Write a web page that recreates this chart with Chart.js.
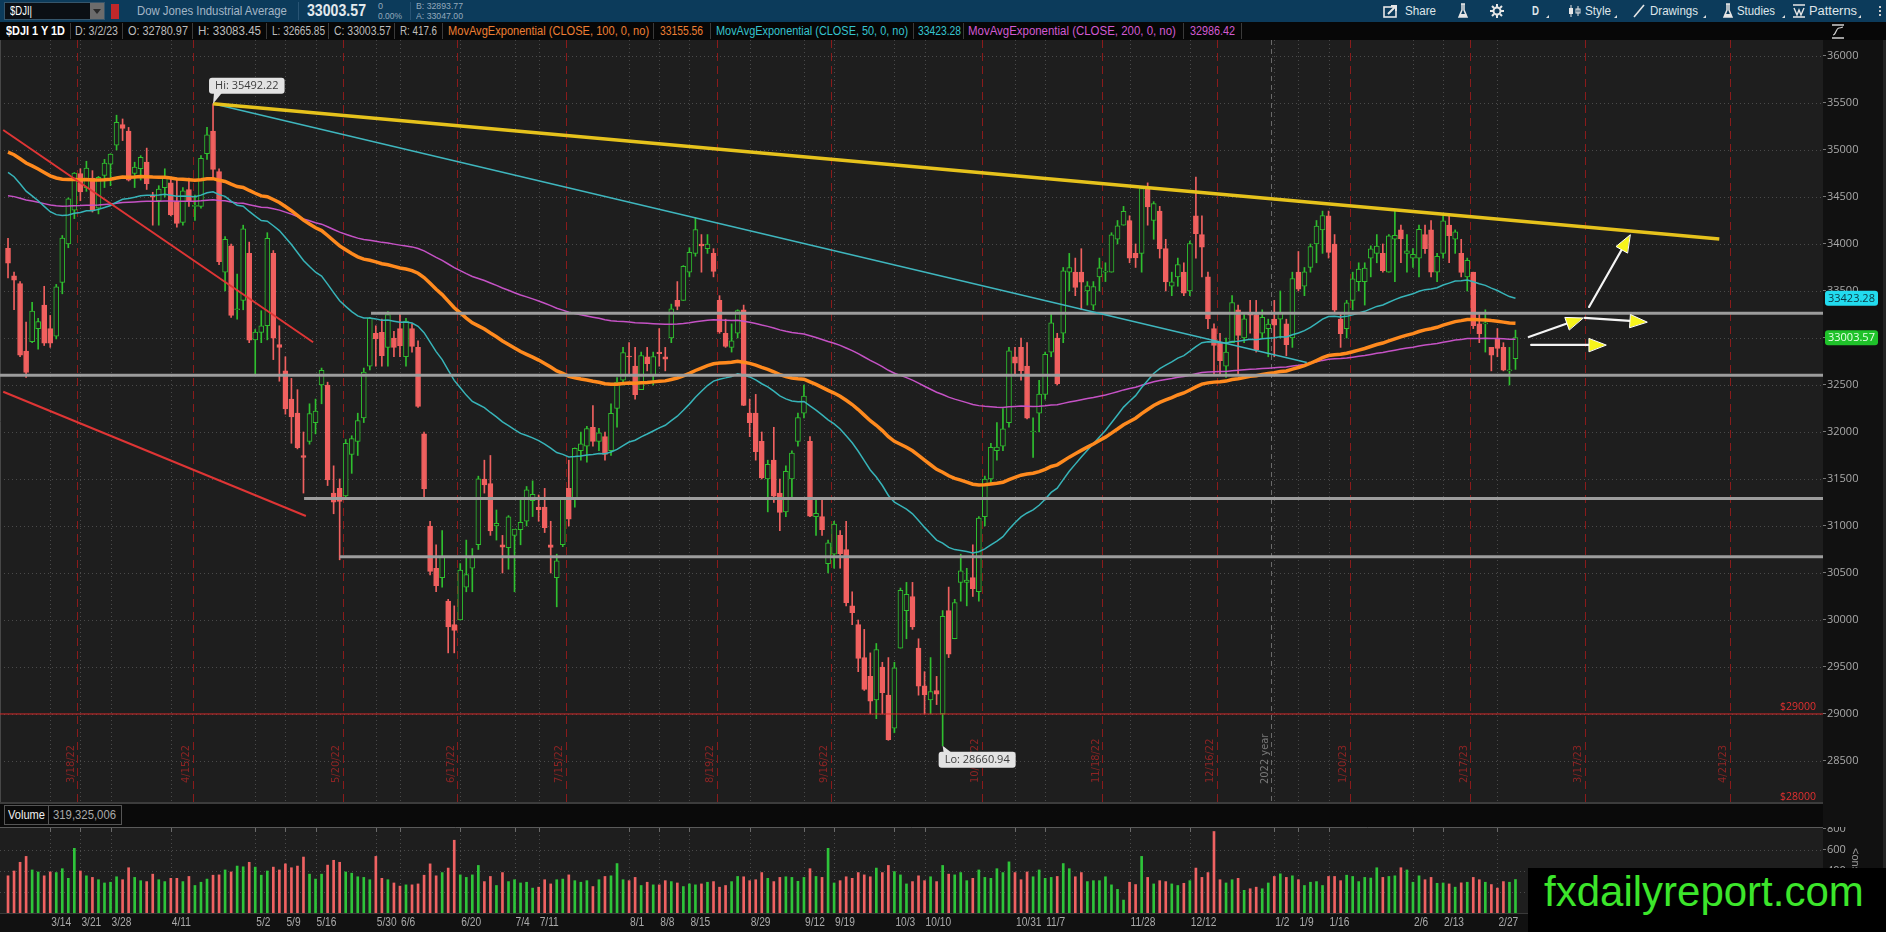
<!DOCTYPE html>
<html><head><meta charset="utf-8"><title>$DJI 1 Y 1D</title>
<script src="https://cdn.jsdelivr.net/npm/chart.js@4.4.1/dist/chart.umd.min.js"></script>
<style>
*{box-sizing:border-box}
html,body{margin:0;padding:0;width:1886px;height:932px;overflow:hidden;background:#111;font-family:"Liberation Sans",Arial,sans-serif;}
.abs{position:absolute;white-space:nowrap}
#top{position:absolute;left:0;top:0;width:1886px;height:22px;background:#0c3b5b}
#top .t{color:#a4b6c6;font-size:13px;top:3px}
#top .b{color:#dfe6ea;font-size:12.5px;top:4px}
#top .tiny{color:#93a9bb;font-size:9px;line-height:9px}
#leg{position:absolute;left:0;top:22px;width:1886px;height:18px;background:#070707}
#leg .abs{top:2px;font-size:12.5px;line-height:14px;color:#bdbdbd}
.sep{position:absolute;top:1px;width:1px;height:16px;background:#3a3a3a}
#main{position:absolute;left:0;top:40px}
#volhead{position:absolute;left:0;top:802px;width:1823px;height:25px;background:#0a0a0a;border-top:2px solid #3c3c3c}
#vol{position:absolute;left:0;top:827px}
#wm{position:absolute;left:1528px;top:868px;width:358px;height:64px;background:#000;color:#3ce62b;font-family:"Liberation Sans",Arial,sans-serif;font-size:42px;line-height:48px;padding-left:16px}
</style></head>
<body>
<div id="top">
  <div class="abs" style="left:4px;top:2px;width:101px;height:18px;background:#0b0f14;border:1px solid #35556b"></div>
  <span class="abs" style="left:10px;top:4px;color:#fff;font-size:12.5px" data-w="22">$DJI|</span>
  <div class="abs" style="left:90px;top:3px;width:14px;height:16px;background:#6c6c6c"></div>
  <div class="abs" style="left:93px;top:9px;width:0;height:0;border-left:4px solid transparent;border-right:4px solid transparent;border-top:5px solid #2a2a2a"></div>
  <div class="abs" style="left:111px;top:4px;width:8px;height:15px;background:#c0282a"></div>
  <span class="abs t" style="left:137px" data-w="150">Dow Jones Industrial Average</span>
  <div class="sep" style="left:298px;top:2px;height:18px;background:#285474"></div>
  <span class="abs" style="left:307px;top:1px;color:#e3e9ed;font-size:17px;font-weight:bold" data-w="59">33003.57</span>
  <span class="abs tiny" style="left:378px;top:2px">0</span>
  <span class="abs tiny" style="left:378px;top:12px" data-w="24">0.00%</span>
  <div class="sep" style="left:410px;top:2px;height:18px;background:#285474"></div>
  <span class="abs tiny" style="left:416px;top:2px" data-w="47">B: 32893.77</span>
  <span class="abs tiny" style="left:416px;top:12px" data-w="47">A: 33047.00</span>

  <svg class="abs" style="left:1383px;top:4px" width="16" height="14"><rect x="1" y="3" width="12" height="10" fill="none" stroke="#e6e6e6" stroke-width="1.6"/><path d="M5 10 L12 3 M8 2 H13 V7" stroke="#e6e6e6" stroke-width="2" fill="none"/></svg>
  <span class="abs b" style="left:1405px" data-w="31">Share</span>
  <svg class="abs" style="left:1457px;top:3px" width="12" height="16"><path d="M4 1 H8 M5 1 V7 L2 14 H10 L7 7 V1" stroke="#e6e6e6" stroke-width="1.5" fill="none"/><path d="M3 11 H9 L10 14 H2Z" fill="#e6e6e6"/></svg>
  <svg class="abs" style="left:1490px;top:4px" width="14" height="14"><circle cx="7" cy="7" r="3.5" fill="none" stroke="#e6e6e6" stroke-width="2"/><path d="M7 0V3M7 11V14M0 7H3M11 7H14M2 2L4 4M10 10L12 12M12 2L10 4M4 10L2 12" stroke="#e6e6e6" stroke-width="2"/></svg>
  <span class="abs b" style="left:1532px;font-weight:bold" data-w="7">D</span>
  <div class="abs" style="left:1546px;top:15px;border-left:3px solid transparent;border-bottom:3px solid #ddd"></div>
  <svg class="abs" style="left:1568px;top:4px" width="14" height="14"><path d="M3 1V13M10 2V12" stroke="#e6e6e6" stroke-width="1"/><rect x="1" y="4" width="4" height="6" fill="#e6e6e6"/><rect x="8" y="5" width="4" height="4" fill="none" stroke="#e6e6e6"/></svg>
  <span class="abs b" style="left:1585px" data-w="26">Style</span>
  <div class="abs" style="left:1614px;top:15px;border-left:3px solid transparent;border-bottom:3px solid #ddd"></div>
  <svg class="abs" style="left:1632px;top:4px" width="14" height="14"><path d="M2 13L12 1" stroke="#e6e6e6" stroke-width="1.6"/></svg>
  <span class="abs b" style="left:1650px" data-w="48">Drawings</span>
  <div class="abs" style="left:1703px;top:15px;border-left:3px solid transparent;border-bottom:3px solid #ddd"></div>
  <svg class="abs" style="left:1722px;top:3px" width="12" height="16"><path d="M4 1 H8 M5 1 V7 L2 14 H10 L7 7 V1" stroke="#e6e6e6" stroke-width="1.5" fill="none"/><path d="M3 11 H9 L10 14 H2Z" fill="#e6e6e6"/></svg>
  <span class="abs b" style="left:1737px" data-w="38">Studies</span>
  <div class="abs" style="left:1782px;top:15px;border-left:3px solid transparent;border-bottom:3px solid #ddd"></div>
  <svg class="abs" style="left:1792px;top:3px" width="14" height="16"><path d="M1 2H13M1 14H13M2 5L5 12L7 7L9 12L12 5" stroke="#e6e6e6" stroke-width="1.4" fill="none"/></svg>
  <span class="abs b" style="left:1809px" data-w="48">Patterns</span>
  <div class="abs" style="left:1858px;top:15px;border-left:3px solid transparent;border-bottom:3px solid #ddd"></div>
  <div class="abs" style="left:1879px;top:6px;width:2px;height:2px;background:#ccc;box-shadow:0 4px 0 #ccc,0 8px 0 #ccc"></div>
</div>

<div id="leg">
  <span class="abs" style="left:6px;color:#fff;font-weight:bold" data-w="59">$DJI 1 Y 1D</span><div class="sep" style="left:70px"></div>
  <span class="abs" style="left:75px" data-w="43">D: 3/2/23</span><div class="sep" style="left:122px"></div>
  <span class="abs" style="left:128px" data-w="60">O: 32780.97</span><div class="sep" style="left:192px"></div>
  <span class="abs" style="left:198px" data-w="63">H: 33083.45</span><div class="sep" style="left:266px"></div>
  <span class="abs" style="left:272px" data-w="53">L: 32665.85</span><div class="sep" style="left:328px"></div>
  <span class="abs" style="left:334px" data-w="57">C: 33003.57</span><div class="sep" style="left:394px"></div>
  <span class="abs" style="left:400px" data-w="37">R: 417.6</span><div class="sep" style="left:442px"></div>
  <span class="abs" style="left:448px;color:#ee7f33" data-w="201">MovAvgExponential (CLOSE, 100, 0, no)</span><div class="sep" style="left:653px"></div>
  <span class="abs" style="left:660px;color:#ee7f33" data-w="43">33155.56</span><div class="sep" style="left:710px"></div>
  <span class="abs" style="left:716px;color:#35c3cf" data-w="192">MovAvgExponential (CLOSE, 50, 0, no)</span><div class="sep" style="left:913px"></div>
  <span class="abs" style="left:918px;color:#35c3cf" data-w="43">33423.28</span><div class="sep" style="left:963px"></div>
  <span class="abs" style="left:968px;color:#d25ad2" data-w="208">MovAvgExponential (CLOSE, 200, 0, no)</span><div class="sep" style="left:1183px"></div>
  <span class="abs" style="left:1190px;color:#d25ad2" data-w="45">32986.42</span><div class="sep" style="left:1241px"></div>
  <svg class="abs" style="left:1830px;top:1px" width="16" height="17"><path d="M2 2H14M2 15H14" stroke="#cfcfcf" stroke-width="1.5"/><path d="M3 12C6 12 6 5 9 5S12 4 13 4" stroke="#cfcfcf" stroke-width="1.2" fill="none"/></svg>
</div>

<canvas id="main" width="1886" height="763"></canvas>
<div id="volhead">
  <div class="abs" style="left:4px;top:1px;width:45px;height:20px;border:1px solid #555"></div>
  <span class="abs" style="left:8px;top:4px;color:#f0f0f0;font-size:12.5px" data-w="37">Volume</span>
  <div class="abs" style="left:48px;top:1px;width:74px;height:20px;border:1px solid #555;border-left:none"></div>
  <span class="abs" style="left:53px;top:4px;color:#a8a8a8;font-size:12.5px" data-w="63">319,325,006</span>
</div>
<canvas id="vol" width="1886" height="105"></canvas>
<div class="abs" style="left:1883px;top:40px;width:3px;height:892px;background:#232323"></div>
<div class="abs" style="left:1862px;top:848px;color:#9a9a9a;font-size:11px;transform:rotate(90deg);transform-origin:left top">&lt;ons</div>
<div id="wm">fxdailyreport.com</div>

<script>
// fit the narrow toolbar / legend texts to the widths measured on the reference
document.querySelectorAll('[data-w]').forEach(el => {
  const w = +el.dataset.w, a = el.getBoundingClientRect().width;
  if (a > 0) { el.style.transformOrigin = 'left center'; el.style.transform = 'scaleX(' + (w / a).toFixed(3) + ')'; }
});

// ---------------- DATA ----------------
// trading-day index 0 = 3/3/22 ... 250 = 3/2/23
const opens = [33953,33660,33580,32860,32960,33100,33350,33100,33020,33590,
34000,34360,34750,34600,34700,34380,34730,34850,35050,35270,
35200,34750,34800,34870,34500,34460,34600,34650,34450,34230,
34580,34400,34400,34960,35200,34770,33700,33980,33300,33400,
33900,32980,33060,33130,33900,32930,32650,32350,32200,31750,
31900,32100,32500,32500,31350,31400,31320,31760,31900,32150,
32700,33050,33060,32900,33000,33100,32800,33100,32900,31980,
31000,30550,30450,30200,29950,30000,30350,30550,30800,31500,
31450,31000,30800,30770,30900,30960,31050,31270,31200,31200,
30800,30450,30800,31400,31300,31800,31850,32050,31900,31950,
31800,32250,32550,32800,32700,32450,32800,32600,32850,32800,
33000,33400,33400,33700,33900,34000,33950,33900,33400,33050,
32900,33050,33300,32200,32200,31900,31500,31700,31350,31150,
31500,31900,32200,31900,31100,31100,30600,30700,30900,30750,
30150,29950,29600,29400,29150,29500,29200,28850,29700,30100,
30250,29700,29300,29150,29250,29000,30100,29800,30400,30400,
30450,30300,31100,31500,31800,31850,32100,32800,32900,32700,
32000,32200,32400,32850,33000,33050,33700,33700,33700,33500,
33350,33650,33700,33700,34050,34200,34250,33900,33900,34600,
34250,34350,33950,33550,33650,33700,33500,34300,34100,33650,
33100,32950,32700,32950,33300,33000,33250,33250,33050,33100,
33200,33200,33150,33000,33700,33550,33750,34000,34150,34300,
34000,33200,33100,33400,33600,33600,33850,33900,33900,33700,
34050,34150,33900,33850,33850,34100,34150,33700,33900,34200,
34050,33900,33650,33700,33150,33150,32900,33000,32900,32650,
32780.97];
const highs = [34060,33700,33600,33170,33380,33210,33550,33240,33570,34090,
34490,34760,34800,34880,34780,34720,34900,34960,35370,35330,
35240,34870,34940,35020,34550,34620,34800,34700,34700,34600,
34700,34520,34940,35240,35492.22,34800,34080,34000,33680,34200,
34020,33090,33290,34120,33930,33130,32800,32570,32450,32000,
32300,32350,32680,32530,31640,31500,31920,31960,32200,32680,
33220,33130,33200,33280,33070,33270,33210,33150,32970,32000,
31050,30800,30950,30220,30150,30600,30850,30760,31530,31700,
31750,31170,30900,31110,30950,31280,31420,31480,31330,31400,
31050,30700,31300,31700,31830,32000,32060,32280,32040,32000,
32300,32580,32900,32950,32900,32850,32900,32850,33100,32900,
33360,33600,33770,33960,34280,34100,34100,33950,33450,33200,
33150,33300,33350,32350,32400,32000,31700,32050,31500,31640,
31800,32200,32500,31950,31300,31300,30850,31050,30950,31050,
30300,30000,29900,29650,29750,29550,29600,29550,30340,30400,
30400,29800,29450,29600,29400,30100,30350,30220,30700,30550,
30800,31100,31530,31880,32100,32250,32900,32900,33000,32950,
32150,32550,32850,33260,33050,33750,33900,33850,33950,33600,
33600,33850,33800,34120,34250,34400,34300,34000,34600,34650,
34450,34400,34050,33700,33850,33800,34030,34712,34300,33700,
33150,33050,33000,33450,33350,33250,33400,33400,33300,33200,
33400,33500,33200,33700,33920,33750,34000,34250,34350,34350,
34100,33250,33400,33700,33800,33800,33980,34100,34000,34100,
34350,34200,34100,33950,34200,34200,34250,33900,34300,34300,
34150,34050,33850,33700,33250,33300,32900,33100,32950,32900,
33083.45];
const lows = [33640,33300,32800,32580,32950,32880,32920,32900,32990,33470,
33960,34270,34460,34560,34340,34320,34600,34620,35000,35100,
34670,34600,34680,34580,34200,34200,34500,34300,34180,34200,
34400,34250,34380,34900,34700,33780,33500,33220,33200,33300,
32950,32600,32950,32980,32770,32540,32190,31880,31820,31350,
31870,31980,32300,31430,31130,30640,31300,31560,31750,32100,
32660,32700,32700,32700,32800,32800,32700,32850,32260,31300,
30480,30300,30350,29650,29650,30000,30300,30300,30750,31350,
30900,30850,30500,30540,30300,30800,31000,31100,31050,30930,
30500,30140,30780,31000,31200,31700,31680,31850,31800,31700,
31750,32050,32500,32600,32350,32450,32650,32500,32700,32650,
32950,33300,33400,33650,33870,33700,33900,33650,33050,32900,
32850,33000,32280,31950,31700,31500,31150,31250,30950,31100,
31300,31850,32150,31100,30900,30900,30500,30550,30550,30150,
29950,29450,29250,29000,28950,29000,28720,28800,29700,29800,
29900,29200,29000,29000,29100,28660.94,29600,29800,30200,30150,
30250,30200,31000,31450,31700,31800,32050,32600,32550,32140,
31730,32000,32350,32800,32500,32950,33500,33450,33300,33350,
33300,33500,33600,33700,34000,34200,33800,33750,33700,34200,
34050,33850,33500,33450,33550,33450,33450,33850,33650,33100,
32600,32600,32580,32950,32600,32950,33050,32850,33000,32800,
32800,33000,32810,32900,33500,33450,33700,33800,33900,33850,
33280,32900,33000,33300,33500,33350,33650,33800,33700,33700,
33600,33800,33700,33750,33650,33900,33650,33600,33850,33800,
33900,33650,33500,33100,32950,32850,32650,32800,32650,32500,
32665.85];
const closes = [33795,33615,32817,32633,33286,33174,32944,32945,33544,34063,
34481,34755,34553,34807,34359,34708,34861,34956,35294,35229,
34678,34818,34922,34641,34497,34584,34721,34308,34220,34565,
34451,34412,34911,35161,34793,33811,34049,33240,33302,34161,
32977,33062,33129,34061,32998,32899,32246,32161,31834,31730,
32197,32223,32655,31490,31253,31262,31880,31929,32120,32637,
33213,32990,32813,33248,32900,32916,33180,32911,32273,31393,
30517,30365,30669,29927,29889,30530,30483,30677,31501,31438,
30947,31029,30775,31097,30968,31038,31385,31338,31174,30981,
30773,30630,31288,31073,31827,31875,32037,31899,31990,31762,
32198,32530,32845,32798,32396,32813,32727,32803,32833,32774,
33310,33337,33761,33912,34152,33980,33999,33707,33064,32910,
32969,33292,32283,32099,31791,31510,31656,31318,31145,31581,
31775,32152,32381,31105,31135,30962,30822,31020,30706,30184,
30077,29590,29261,29135,29684,29226,28726,29491,30316,30274,
29927,29297,29203,29239,29211,30039,29635,30186,30524,30424,
30334,31083,31500,31837,31839,32033,32862,32733,32653,32148,
32001,32403,32827,33161,32514,33715,33748,33537,33593,33554,
33546,33746,33700,34098,34194,34347,33849,33853,34590,34395,
34430,33947,33596,33598,33781,33476,34005,34109,33966,33202,
32920,32758,32850,33376,33027,33204,33242,32876,33221,33147,
33136,33270,32930,33631,33518,33704,33973,34190,34303,33911,
33297,33045,33375,33630,33734,33744,33949,33978,33717,34086,
34093,34054,33926,33891,34157,33949,33700,33869,34246,34089,
34128,33697,33827,33130,33045,33154,32817,32889,32657,32662,
33003.57];
// volume, millions of shares
const volumes = [354,400,483,539,410,391,354,391,385,422,
330,616,400,354,339,317,286,293,345,317,
431,339,308,299,370,317,299,330,330,299,
348,262,293,323,360,363,410,391,447,440,
483,437,360,400,437,410,468,431,447,533,
370,323,370,456,502,483,391,379,345,339,
317,539,330,317,286,256,268,268,277,360,
468,354,385,428,693,363,339,363,453,299,
348,262,385,299,317,286,293,237,246,317,
277,317,323,363,308,293,308,252,317,348,
354,471,317,308,339,262,293,268,268,308,
299,286,252,277,268,277,293,299,246,262,
299,348,
345,308,317,385,330,299,339,345,339,302,
339,422,348,339,616,286,308,345,330,385,
363,345,428,385,453,394,363,277,299,354,
308,345,299,453,370,363,385,308,330,410,
339,330,422,385,487,385,317,391,345,410,
330,339,348,471,422,345,385,299,308,308,
345,268,225,123,293,271,539,339,277,308,
299,277,262,283,308,428,339,385,776,317,
286,317,330,216,231,246,231,286,348,373,
339,354,317,262,293,299,262,348,348,308,
360,348,299,339,333,431,339,348,354,431,
410,293,354,317,339,283,286,277,
246,287,293,339,317,293,271,237,299,293,319];

// EMA values just before the first visible bar, read at the left edge of the chart
const emaSeeds = {50: 34800, 100: 35000, 200: 34520};

// axis ticks
const priceTicks = [28500,29000,29500,30000,30500,31000,31500,32000,32500,33000,33500,34000,34500,35000,35500,36000];
const volumeTicks = [200,400,600,800];
const weekTicks = [[7,'3/14'],[12,'3/21'],[17,'3/28'],[27,'4/11'],[41,'5/2'],[46,'5/9'],[51,'5/16'],[61,'5/30'],[65,'6/6'],[75,'6/20'],[84,'7/4'],[88,'7/11'],[103,'8/1'],[108,'8/8'],[113,'8/15'],[123,'8/29'],[132,'9/12'],[137,'9/19'],[147,'10/3'],[152,'10/10'],[167,'10/31'],[172,'11/7'],[186,'11/28'],[196,'12/12'],[210,'1/2'],[214,'1/9'],[219,'1/16'],[233,'2/6'],[238,'2/13'],[247,'2/27']];
// option-expiration markers (position in trading-day index) and year marker
const expiries = [[11.5,'3/18/22'],[30.7,'4/15/22'],[55.5,'5/20/22'],[74.5,'6/17/22'],[92.5,'7/15/22'],[117.5,'8/19/22'],[136.5,'9/16/22'],[161.5,'10/21/22'],[181.5,'11/18/22'],[200.5,'12/16/22'],[222.5,'1/20/23'],[242.5,'2/17/23'],[261.5,'3/17/23'],[285.5,'4/21/23']];
const yearMark = [209.5,'2022 year'];

// user drawings: [index, price] endpoints
const drawings = [
  {color:'#e6c21c', width:3.5, pts:[[34,35492.22],[283.8,34053]]},
  {color:'#3fb6be', width:1.5, pts:[[34,35492.22],[215.4,32740]]},
  {color:'#df3535', width:2, pts:[[-0.8,35213],[50.6,32955]]},
  {color:'#df3535', width:2, pts:[[-0.8,32428],[49.4,31106]]},
  {color:'#9d9d9d', width:3, pts:[[60.2,33262],[301,33262]]},
  {color:'#9d9d9d', width:3, pts:[[-1.4,32603],[301,32603]]},
  {color:'#9d9d9d', width:3, pts:[[49.1,31292],[301,31292]]},
  {color:'#9d9d9d', width:3, pts:[[55,30672],[301,30672]]},
  {color:'#d42a2a', width:1, pts:[[-1.4,29000],[301,29000]]}
];
const priceLevels = [[29000,'$29000'],[28000,'$28000']];
const arrows = [[252.2,33011,261.2,33213],[261.5,33213,271.8,33170],[252.6,32926,265,32926],[262.2,33330,269,34096]];
const callouts = [{i:34, p:35492.22, text:'Hi: 35492.22', above:true},{i:155, p:28660.94, text:'Lo: 28660.94', above:false}];
const priceTags = [[33423.28,'33423.28','#22dcef','#0b3944'],[33003.57,'33003.57','#1fc22a','#e9ffe9']];

// ---------------- derived ----------------
const idx = closes.map((_, i) => i);
const isUp = idx.map(i => closes[i] >= opens[i]);
function ema(src, n, seed) { const a = 2 / (n + 1); let e = seed; return src.map(c => (e = e + a * (c - e))); }
const ema50 = ema(closes, 50, emaSeeds[50]);
const ema100 = ema(closes, 100, emaSeeds[100]);
const ema200 = ema(closes, 200, emaSeeds[200]);

const X_MIN = -1.33, X_MAX = 301;
const Y_MIN = 28053, Y_MAX = 36170;
const GREEN = '#2fbf2f', RED = '#f0605f', BG = '#1e1e1e';
const NARROW = '"Liberation Sans Narrow","DejaVu Sans Condensed",sans-serif';
const SANS = '"Liberation Sans",Arial,sans-serif';
const AXF = '"Open Sans","DejaVu Sans",sans-serif';

function vline(ctx, x, y1, y2) { ctx.beginPath(); ctx.moveTo(x, y1); ctx.lineTo(x, y2); ctx.stroke(); }
function hline(ctx, y, x1, x2) { ctx.beginPath(); ctx.moveTo(x1, y); ctx.lineTo(x2, y); ctx.stroke(); }
function rrect(ctx, x, y, w, h, r) { ctx.beginPath(); ctx.moveTo(x + r, y); ctx.lineTo(x + w - r, y); ctx.quadraticCurveTo(x + w, y, x + w, y + r); ctx.lineTo(x + w, y + h - r); ctx.quadraticCurveTo(x + w, y + h, x + w - r, y + h); ctx.lineTo(x + r, y + h); ctx.quadraticCurveTo(x, y + h, x, y + h - r); ctx.lineTo(x, y + r); ctx.quadraticCurveTo(x, y, x + r, y); ctx.closePath(); }

const mainDeco = {
  id: 'mainDeco',
  beforeDraw(c) {
    const { ctx, chartArea: a } = c;
    ctx.save();
    ctx.fillStyle = '#111'; ctx.fillRect(0, 0, c.width, c.height);
    ctx.fillStyle = BG; ctx.fillRect(a.left, a.top, a.right - a.left, a.bottom - a.top);
    ctx.restore();
  },
  beforeDatasetsDraw(c) {
    const { ctx, chartArea: a, scales: { x, y } } = c;
    ctx.save();
    ctx.beginPath(); ctx.rect(a.left, a.top, a.right - a.left, a.bottom - a.top); ctx.clip();
    ctx.lineWidth = 1; ctx.strokeStyle = '#4a4a4a'; ctx.setLineDash([1, 3]);
    priceTicks.forEach(v => hline(ctx, Math.round(y.getPixelForValue(v)) + 0.5, a.left, a.right));
    weekTicks.forEach(([i]) => vline(ctx, Math.round(x.getPixelForValue(i)) + 0.5, a.top, a.bottom));
    ctx.strokeStyle = '#6a6a6a'; ctx.setLineDash([5, 4]);
    const yx = Math.round(x.getPixelForValue(yearMark[0])) + 0.5;
    vline(ctx, yx, a.top, a.bottom);
    ctx.strokeStyle = '#8a1b1b'; ctx.setLineDash([8, 5]);
    expiries.forEach(([i]) => vline(ctx, Math.round(x.getPixelForValue(i)) + 0.5, a.top, a.bottom));
    ctx.setLineDash([]);
    ctx.textAlign = 'left'; ctx.textBaseline = 'bottom';
    ctx.font = '11px ' + NARROW;
    ctx.fillStyle = '#8c2424';
    expiries.forEach(([i, t]) => {
      const p = x.getPixelForValue(i);
      ctx.save(); ctx.translate(p - 1, a.bottom - 20); ctx.rotate(-Math.PI / 2); ctx.fillText(t, 0, 0); ctx.restore();
    });
    ctx.fillStyle = '#787878';
    ctx.save(); ctx.translate(yx - 1, a.bottom - 19); ctx.rotate(-Math.PI / 2); ctx.fillText(yearMark[1], 0, 0); ctx.restore();
    ctx.strokeStyle = '#474747'; ctx.lineWidth = 1; vline(ctx, a.left + 0.5, a.top, a.bottom);
    ctx.restore();
  },
  afterDatasetsDraw(c) {
    const { ctx, chartArea: a, scales: { x, y } } = c;
    ctx.save();
    ctx.font = '10.5px ' + AXF; ctx.fillStyle = '#e23030'; ctx.textAlign = 'right'; ctx.textBaseline = 'bottom';
    priceLevels.forEach(([v, t]) => { const py = Math.min(y.getPixelForValue(v) - 2, a.bottom - 1); ctx.fillText(t, a.right - 7, py); });
    arrows.forEach(([i1, p1, i2, p2]) => {
      const x1 = x.getPixelForValue(i1), y1 = y.getPixelForValue(p1), x2 = x.getPixelForValue(i2), y2 = y.getPixelForValue(p2);
      const ang = Math.atan2(y2 - y1, x2 - x1), hl = 17, hw = 6.5;
      const bx = x2 - hl * Math.cos(ang), by = y2 - hl * Math.sin(ang);
      ctx.strokeStyle = '#f4f4f4'; ctx.lineWidth = 2.2; ctx.lineCap = 'round';
      ctx.beginPath(); ctx.moveTo(x1, y1); ctx.lineTo(bx, by); ctx.stroke();
      ctx.beginPath(); ctx.moveTo(x2, y2);
      ctx.lineTo(bx + hw * Math.sin(ang), by - hw * Math.cos(ang));
      ctx.lineTo(bx - hw * Math.sin(ang), by + hw * Math.cos(ang)); ctx.closePath();
      ctx.fillStyle = '#f6f41c'; ctx.fill(); ctx.lineWidth = 1; ctx.strokeStyle = '#ffffff'; ctx.stroke();
    });
    ctx.font = '11px ' + AXF; ctx.textAlign = 'left'; ctx.textBaseline = 'middle';
    callouts.forEach(o => {
      const px = x.getPixelForValue(o.i), py = y.getPixelForValue(o.p);
      const w = ctx.measureText(o.text).width + 12, h = 16;
      const bx = px - 4, by = o.above ? py - 26 : py + 6;
      ctx.fillStyle = '#e3e3e3';
      rrect(ctx, bx, by, w, h, 3); ctx.fill();
      ctx.beginPath();
      if (o.above) { ctx.moveTo(px + 1, by + h - 1); ctx.lineTo(px + 9, by + h - 1); ctx.lineTo(px, py); }
      else { ctx.moveTo(px + 1, by + 1); ctx.lineTo(px + 9, by + 1); ctx.lineTo(px, py); }
      ctx.closePath(); ctx.fill();
      ctx.fillStyle = '#3c3c3c'; ctx.fillText(o.text, bx + 6, by + h / 2 + 0.5);
    });
    ctx.restore();
  },
  afterDraw(c) {
    const { ctx, chartArea: a, scales: { y } } = c;
    ctx.save();
    ctx.font = '11px ' + AXF; ctx.textAlign = 'left'; ctx.textBaseline = 'middle';
    priceTags.forEach(([v, t, bg, fg]) => {
      const py = y.getPixelForValue(v);
      ctx.fillStyle = bg; rrect(ctx, a.right + 2, py - 7.5, 53, 15, 3); ctx.fill();
      ctx.fillStyle = fg; ctx.fillText(t, a.right + 5, py + 0.5);
    });
    ctx.restore();
  }
};

new Chart(document.getElementById('main'), {
  type: 'bar',
  data: {
    datasets: [
      { type: 'bar', label: 'wick', data: idx.map(i => ({ x: i, y: [lows[i], highs[i]] })),
        backgroundColor: idx.map(i => isUp[i] ? GREEN : RED), borderWidth: 0, barThickness: 1, grouped: false, order: 10 },
      { type: 'bar', label: 'body', data: idx.map(i => ({ x: i, y: [opens[i], closes[i]] })),
        backgroundColor: idx.map(i => isUp[i] ? BG : RED), borderColor: idx.map(i => isUp[i] ? GREEN : RED),
        borderWidth: 1, borderSkipped: false, barThickness: 5, minBarLength: 1, grouped: false, order: 9 },
      { type: 'line', label: 'EMA200', data: idx.map(i => ({ x: i, y: ema200[i] })), borderColor: '#c552c5', borderWidth: 1.5, pointRadius: 0, order: 7 },
      { type: 'line', label: 'EMA50', data: idx.map(i => ({ x: i, y: ema50[i] })), borderColor: '#37b4b9', borderWidth: 1.5, pointRadius: 0, order: 6 },
      { type: 'line', label: 'EMA100', data: idx.map(i => ({ x: i, y: ema100[i] })), borderColor: '#ff8a1e', borderWidth: 3.5, pointRadius: 0, order: 5 },
      ...drawings.map((d, k) => ({ type: 'line', label: 'draw' + k, data: d.pts.map(([px, py]) => ({ x: px, y: py })),
        borderColor: d.color, borderWidth: d.width, pointRadius: 0, order: 1 }))
    ]
  },
  options: {
    responsive: false, animation: false, events: [],
    layout: { padding: 0 },
    plugins: { legend: { display: false }, tooltip: { enabled: false } },
    scales: {
      x: { type: 'linear', min: X_MIN, max: X_MAX, display: false, offset: false },
      y: { type: 'linear', position: 'right', min: Y_MIN, max: Y_MAX,
        afterBuildTicks: s => { s.ticks = priceTicks.map(v => ({ value: v })); },
        afterFit: s => { s.width = 63; s.paddingTop = 0; s.paddingBottom = 0; },
        grid: { drawOnChartArea: false, drawTicks: true, tickLength: 3, color: '#777' },
        border: { display: false },
        ticks: { color: '#a9a9a9', font: { family: AXF, size: 11 }, padding: 1, callback: v => String(v) } }
    }
  },
  plugins: [mainDeco]
});

const volDeco = {
  id: 'volDeco',
  beforeDraw(c) {
    const { ctx, chartArea: a } = c;
    ctx.save();
    ctx.fillStyle = '#111'; ctx.fillRect(0, 0, c.width, c.height);
    ctx.fillStyle = BG; ctx.fillRect(a.left, a.top, a.right - a.left, a.bottom - a.top);
    ctx.restore();
  },
  beforeDatasetsDraw(c) {
    const { ctx, chartArea: a, scales: { x, y } } = c;
    ctx.save();
    ctx.lineWidth = 1; ctx.strokeStyle = '#4a4a4a'; ctx.setLineDash([1, 3]);
    [200, 400, 600].forEach(v => hline(ctx, Math.round(y.getPixelForValue(v)) + 0.5, a.left, a.right));
    weekTicks.forEach(([i]) => vline(ctx, Math.round(x.getPixelForValue(i)) + 0.5, a.top, a.bottom));
    ctx.setLineDash([]);
    ctx.strokeStyle = '#6a6a6a';
    weekTicks.forEach(([i]) => vline(ctx, Math.round(x.getPixelForValue(i)) + 0.5, a.top, a.top + 5));
    ctx.strokeStyle = '#5a5a5a'; hline(ctx, a.top + 0.5, a.left, a.right);
    ctx.strokeStyle = '#3a3a3a'; hline(ctx, a.bottom + 0.5, a.left, a.right);
    ctx.restore();
  },
  afterDraw(c) {
    // week date labels, placed on the x scale's tick positions (narrow face emulated by horizontal scaling)
    const { ctx, chartArea: a, scales: { x } } = c;
    ctx.save();
    ctx.font = '12px ' + SANS; ctx.fillStyle = '#a9a9a9'; ctx.textAlign = 'left'; ctx.textBaseline = 'middle';
    x.ticks.forEach(t => {
      const f = weekTicks.find(w => w[0] === t.value); if (!f) return;
      ctx.save(); ctx.translate(x.getPixelForValue(t.value) + 1, a.bottom + 9.5); ctx.scale(0.85, 1); ctx.fillText(f[1], 0, 0); ctx.restore();
    });
    ctx.restore();
  }
};

new Chart(document.getElementById('vol'), {
  type: 'bar',
  data: { datasets: [{ type: 'bar', label: 'Volume', data: idx.map(i => ({ x: i, y: volumes[i] })),
    backgroundColor: idx.map(i => isUp[i] ? '#2ec43a' : '#ef6262'), borderWidth: 0, barThickness: 2, grouped: false }] },
  options: {
    responsive: false, animation: false, events: [],
    layout: { padding: 0 },
    plugins: { legend: { display: false }, tooltip: { enabled: false } },
    scales: {
      x: { type: 'linear', min: X_MIN, max: X_MAX, offset: false, position: 'bottom',
        afterBuildTicks: s => { s.ticks = weekTicks.map(([v]) => ({ value: v })); },
        afterFit: s => { s.height = 19; s.paddingLeft = 0; s.paddingRight = 0; },
        grid: { display: false }, border: { display: false },
        ticks: { display: false, autoSkip: false, maxRotation: 0 } },
      y: { type: 'linear', position: 'right', min: 0, max: 819,
        afterBuildTicks: s => { s.ticks = volumeTicks.map(v => ({ value: v })); },
        afterFit: s => { s.width = 63; s.paddingTop = 0; s.paddingBottom = 0; },
        grid: { drawOnChartArea: false, drawTicks: true, tickLength: 3, color: '#777' },
        border: { display: false },
        ticks: { color: '#a9a9a9', font: { family: AXF, size: 11 }, padding: 1, callback: v => String(v) } }
    }
  },
  plugins: [volDeco]
});
</script>
</body></html>
